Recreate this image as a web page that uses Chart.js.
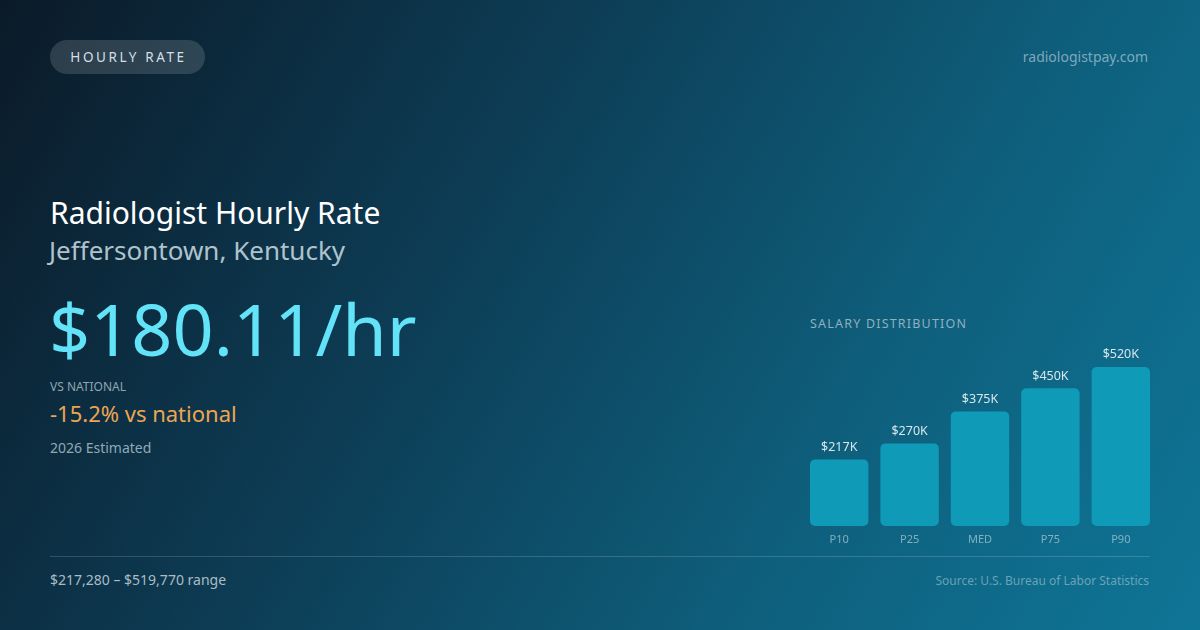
<!DOCTYPE html>
<html>
<head>
<meta charset="utf-8">
<script src="https://cdn.jsdelivr.net/npm/chart.js@4/dist/chart.umd.min.js"></script>
<style>
  html, body { margin: 0; padding: 0; }
  body {
    width: 1200px; height: 630px; overflow: hidden; position: relative;
    font-family: "Noto Sans", sans-serif;
    background: linear-gradient(120deg, #0b1a28 0%, #0d3f58 40%, #0e5f7c 70%, #0f7597 100%);
  }
  .t { position: absolute; white-space: nowrap; line-height: 1; }
  #pill {
    position: absolute; left: 50px; top: 40px; width: 155px; height: 34px;
    border-radius: 17px; background: rgba(255,255,255,0.14);
    color: #d5dfe4; font-size: 13.5px; letter-spacing: 2.6px; text-indent: 2px;
    line-height: 34px; text-align: center;
  }
  #rule { position: absolute; left: 50px; top: 556px; width: 1100px; height: 1px; background: rgba(255,255,255,0.16); }
  #wrap { position: absolute; left: 804px; top: 340px; width: 352px; height: 210px; }
</style>
</head>
<body>
<div id="pill">HOURLY RATE</div>
<div class="t" style="right:52px; top:50px; font-size:14px; color:rgba(200,220,230,0.6);">radiologistpay.com</div>

<div class="t" style="left:50px; top:198px; font-size:30px; color:#ffffff;">Radiologist Hourly Rate</div>
<div class="t" style="left:49px; top:237px; font-size:26px; color:#aec3cd;">Jeffersontown, Kentucky</div>
<div class="t" style="left:49px; top:292px; font-size:72px; color:#62e3f7;">$180.11/hr</div>
<div class="t" style="left:50px; top:381px; font-size:12px; color:#8ea6b2;">VS NATIONAL</div>
<div class="t" style="left:50px; top:402px; font-size:22px; color:#eea553;">-15.2% vs national</div>
<div class="t" style="left:50px; top:441px; font-size:14px; color:#90a9b5;">2026 Estimated</div>

<div class="t" style="left:810px; top:318px; font-size:12.5px; letter-spacing:1.2px; color:#8fb0be;">SALARY DISTRIBUTION</div>
<div id="wrap"><canvas id="dist"></canvas></div>

<div id="rule"></div>
<div class="t" style="left:50px; top:573px; font-size:14px; color:#aabcc5;">$217,280 – $519,770 range</div>
<div class="t" style="right:51px; top:575px; font-size:12px; color:rgba(170,200,212,0.6);">Source: U.S. Bureau of Labor Statistics</div>

<script>
// percentile labels along the x axis
var percentiles = ["P10", "P25", "MED", "P75", "P90"];
// annual salary at each percentile (USD)
var salaries = [217280, 270000, 374630, 450000, 519770];
// text shown above each bar
var barLabels = ["$217K", "$270K", "$375K", "$450K", "$520K"];

var valueLabels = {
  id: "valueLabels",
  afterDatasetsDraw: function(chart) {
    var ctx = chart.ctx;
    var meta = chart.getDatasetMeta(0);
    ctx.save();
    ctx.font = "12.5px 'Noto Sans'";
    ctx.fillStyle = "#d6e6ec";
    ctx.textAlign = "center";
    ctx.textBaseline = "bottom";
    meta.data.forEach(function(bar, i) {
      ctx.fillText(barLabels[i], bar.x, bar.y - 6);
    });
    ctx.restore();
  }
};

var ctx = document.getElementById("dist");
var dist = new Chart(ctx, {
  type: "bar",
  data: {
    labels: percentiles,
    datasets: [{
      data: salaries,
      backgroundColor: "#0f9ab7",
      borderRadius: 5,
      borderSkipped: false,
      barPercentage: 0.83,
      categoryPercentage: 1
    }]
  },
  options: {
    responsive: true,
    maintainAspectRatio: false,
    animation: false,
    layout: { padding: 0 },
    plugins: { legend: { display: false }, tooltip: { enabled: false } },
    scales: {
      x: {
        grid: { display: false, drawTicks: false },
        border: { display: false },
        ticks: { color: "rgba(190,215,225,0.65)", font: { family: "Noto Sans", size: 11 }, padding: 7 },
        afterFit: function(s) { s.height = 24; }
      },
      y: {
        display: false,
        min: 0,
        max: 608000
      }
    }
  },
  plugins: [valueLabels]
});
</script>
</body>
</html>
